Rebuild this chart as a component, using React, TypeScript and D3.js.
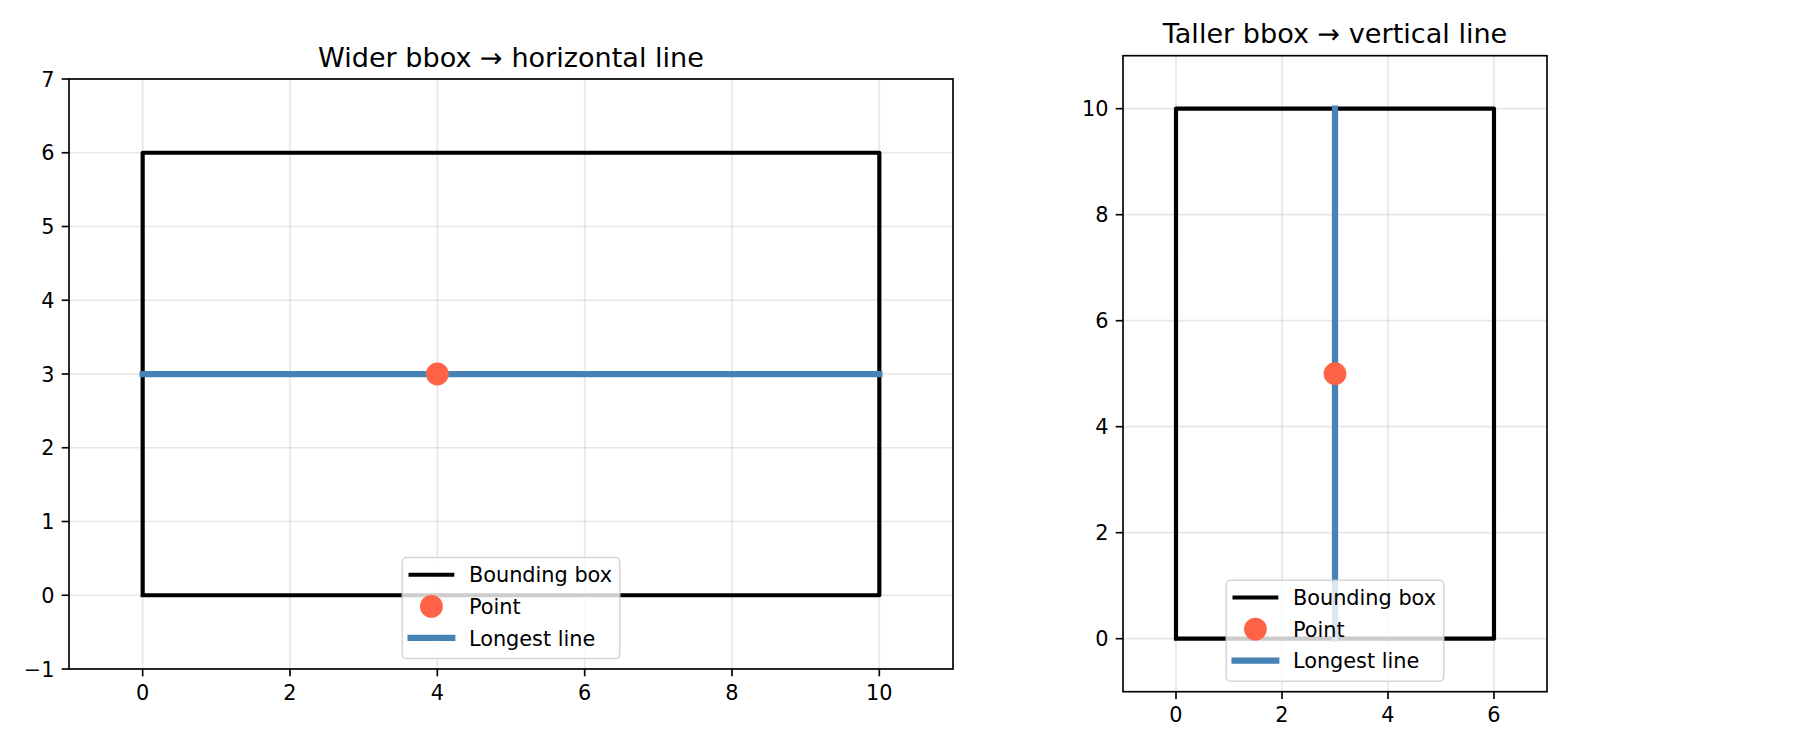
import React from "react";
import * as d3 from "d3";

// ---------- data ----------
const leftTitle = "Wider bbox \u2192 horizontal line";
const rightTitle = "Taller bbox \u2192 vertical line";

const leftBoxX = [0, 10, 10, 0, 0];
const leftBoxY = [0, 0, 6, 6, 0];
const leftPoint = [4, 3];
const leftLineX = [0, 10];
const leftLineY = [3, 3];
const leftXDomain = [-1, 11];
const leftYDomain = [-1, 7];
const leftXTicks = [0, 2, 4, 6, 8, 10];
const leftYTicks = [-1, 0, 1, 2, 3, 4, 5, 6, 7];

const rightBoxX = [0, 6, 6, 0, 0];
const rightBoxY = [0, 0, 10, 10, 0];
const rightPoint = [3, 5];
const rightLineX = [3, 3];
const rightLineY = [0, 10];
const rightXDomain = [-1, 7];
const rightYDomain = [-1, 11];
const rightXTicks = [0, 2, 4, 6];
const rightYTicks = [0, 2, 4, 6, 8, 10];

const legendLabels = ["Bounding box", "Point", "Longest line"];

// ---------- styles ----------
const FONT = "DejaVu Sans, Verdana, sans-serif";
const PT = 150 / 72;
const BOX_COLOR = "#000000";
const POINT_COLOR = "#ff6347";
const LINE_COLOR = "#4682b4";

type PanelProps = {
  left: number; right: number; top: number; bottom: number;
  xDomain: number[]; yDomain: number[];
  xTicks: number[]; yTicks: number[];
  boxX: number[]; boxY: number[];
  point: number[]; lineX: number[]; lineY: number[];
  title: string; clipId: string;
};

const fmt = (v: number) => (v < 0 ? "\u2212" + Math.abs(v) : String(v));

function Panel(p: PanelProps) {
  const x = d3.scaleLinear().domain(p.xDomain).range([p.left, p.right]);
  const y = d3.scaleLinear().domain(p.yDomain).range([p.bottom, p.top]);
  const lineGen = d3.line<number>().x((_, i) => 0).y(() => 0);
  const boxPath = d3
    .line<[number, number]>()
    .x((d) => x(d[0]))
    .y((d) => y(d[1]))(p.boxX.map((v, i) => [v, p.boxY[i]] as [number, number]));
  const lPath = d3
    .line<[number, number]>()
    .x((d) => x(d[0]))
    .y((d) => y(d[1]))(p.lineX.map((v, i) => [v, p.lineY[i]] as [number, number]));
  void lineGen;

  const tickLen = 3.5 * PT;
  const tickPad = 3.5 * PT;
  const fs = 10 * PT;
  const capH = 0.729 * fs;

  // legend (lower center)
  const legW = 217.5;
  const legH = 101;
  const legCx = (p.left + p.right) / 2;
  const legBottom = p.bottom - 0.5 * fs;
  const legLeft = legCx - legW / 2;
  const legTop = legBottom - legH;
  const hx0 = legLeft + 0.4 * fs;
  const hx1 = hx0 + 2.0 * fs;
  const tx = hx1 + 0.8 * fs;
  const rowY = (i: number) => legTop + 17.2 + i * 31.6;

  return (
    <g>
      <defs>
        <clipPath id={p.clipId}>
          <rect x={p.left} y={p.top} width={p.right - p.left} height={p.bottom - p.top} />
        </clipPath>
      </defs>
      {/* grid */}
      <g stroke="#b0b0b0" strokeOpacity={0.3} strokeWidth={0.8 * PT}>
        {p.xTicks.map((t) => (
          <line key={"gx" + t} x1={x(t)} x2={x(t)} y1={p.top} y2={p.bottom} />
        ))}
        {p.yTicks.map((t) => (
          <line key={"gy" + t} x1={p.left} x2={p.right} y1={y(t)} y2={y(t)} />
        ))}
      </g>
      <g clipPath={`url(#${p.clipId})`}>
        <path d={boxPath || ""} fill="none" stroke={BOX_COLOR} strokeWidth={2 * PT}
          strokeLinejoin="round" strokeLinecap="square" />
        <path d={lPath || ""} fill="none" stroke={LINE_COLOR} strokeWidth={3 * PT}
          strokeLinecap="square" />
        <circle cx={x(p.point[0])} cy={y(p.point[1])} r={11.4} fill={POINT_COLOR} />
      </g>
      {/* spines */}
      <rect x={p.left} y={p.top} width={p.right - p.left} height={p.bottom - p.top}
        fill="none" stroke="#000" strokeWidth={0.8 * PT} />
      {/* x ticks */}
      {p.xTicks.map((t) => (
        <g key={"xt" + t}>
          <line x1={x(t)} x2={x(t)} y1={p.bottom} y2={p.bottom + tickLen} stroke="#000" strokeWidth={0.8 * PT} />
          <text x={x(t)} y={p.bottom + tickLen + tickPad + capH + 1} textAnchor="middle"
            fontFamily={FONT} fontSize={fs} fill="#000">{fmt(t)}</text>
        </g>
      ))}
      {/* y ticks */}
      {p.yTicks.map((t) => (
        <g key={"yt" + t}>
          <line x1={p.left - tickLen} x2={p.left} y1={y(t)} y2={y(t)} stroke="#000" strokeWidth={0.8 * PT} />
          <text x={p.left - tickLen - tickPad} y={y(t) + capH / 2} textAnchor="end"
            fontFamily={FONT} fontSize={fs} fill="#000">{fmt(t)}</text>
        </g>
      ))}
      {/* title */}
      <text x={(p.left + p.right) / 2} y={p.top - 6 * PT} textAnchor="middle"
        fontFamily={FONT} fontSize={13 * PT} fill="#000">{p.title}</text>
      {/* legend */}
      <g>
        <rect x={legLeft} y={legTop} width={legW} height={legH} rx={0.2 * fs} ry={0.2 * fs}
          fill="#ffffff" fillOpacity={0.8} stroke="#cccccc" strokeOpacity={0.8} strokeWidth={1 * PT * 0.75} />
        <line x1={hx0} x2={hx1} y1={rowY(0)} y2={rowY(0)} stroke={BOX_COLOR} strokeWidth={2 * PT} strokeLinecap="square" />
        <circle cx={(hx0 + hx1) / 2} cy={rowY(1)} r={11.4} fill={POINT_COLOR} />
        <line x1={hx0} x2={hx1} y1={rowY(2)} y2={rowY(2)} stroke={LINE_COLOR} strokeWidth={3 * PT} strokeLinecap="square" />
        {legendLabels.map((l, i) => (
          <text key={l} x={tx} y={rowY(i) + capH / 2} fontFamily={FONT} fontSize={fs} fill="#000">{l}</text>
        ))}
      </g>
    </g>
  );
}

export default function App() {
  return (
    <div style={{ position: "absolute", left: 0, top: 0 }}>
      <svg width={1800} height={750} style={{ display: "block", background: "#fff" }}>
        <rect x={0} y={0} width={1800} height={750} fill="#fff" />
        <Panel left={69} right={953} top={79} bottom={669}
          xDomain={leftXDomain} yDomain={leftYDomain}
          xTicks={leftXTicks} yTicks={leftYTicks}
          boxX={leftBoxX} boxY={leftBoxY} point={leftPoint}
          lineX={leftLineX} lineY={leftLineY} title={leftTitle} clipId="clipL" />
        <Panel left={1123} right={1547} top={55.7} bottom={691.7}
          xDomain={rightXDomain} yDomain={rightYDomain}
          xTicks={rightXTicks} yTicks={rightYTicks}
          boxX={rightBoxX} boxY={rightBoxY} point={rightPoint}
          lineX={rightLineX} lineY={rightLineY} title={rightTitle} clipId="clipR" />
      </svg>
    </div>
  );
}
